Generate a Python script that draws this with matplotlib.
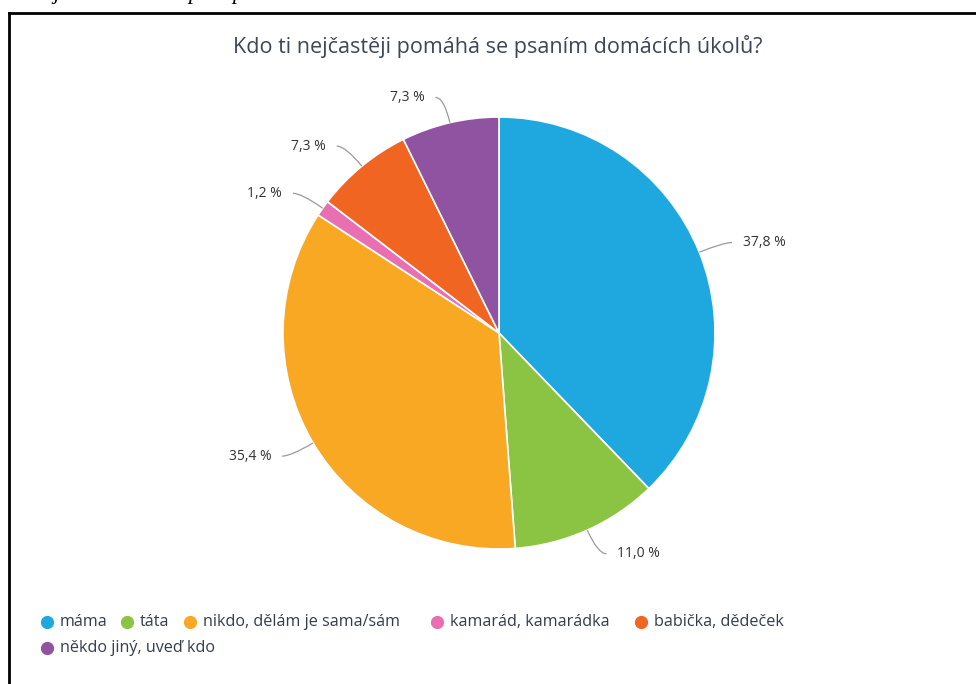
import numpy as np
import matplotlib
matplotlib.use("Agg")
import matplotlib.pyplot as plt
from matplotlib.lines import Line2D
from matplotlib.path import Path
from matplotlib.patches import PathPatch

# data
title = "Kdo ti nejčastěji pomáhá se psaním domácích úkolů?"
categories = ["máma", "táta", "nikdo, dělám je sama/sám", "kamarád, kamarádka",
              "babička, dědeček", "někdo jiný, uveď kdo"]
values = [37.8, 11.0, 35.4, 1.2, 7.3, 7.3]
colors = ["#1fa8df", "#8bc443", "#f9a823", "#e86fb1", "#f06522", "#8f53a1"]

plt.rcParams["font.family"] = ["Open Sans", "DejaVu Sans"]

W, H = 976, 684
fig = plt.figure(figsize=(W / 100, H / 100), dpi=100)

# pie centre (499, 333) px, radius 216 px
cx, cy, r = 499, 333, 216
ax = fig.add_axes([(cx - r) / W, (H - cy - r) / H, 2 * r / W, 2 * r / H])
wedges, _ = ax.pie(values, colors=colors, startangle=90, counterclock=False,
                   radius=1, wedgeprops=dict(edgecolor="white", linewidth=1.2))
ax.set_xlim(-1, 1)
ax.set_ylim(-1, 1)
ax.set_aspect("equal")
ax.axis("off")

# percentage labels with curved leader lines (highcharts-like placement)
for w, v in zip(wedges, values):
    mid = np.deg2rad((w.theta1 + w.theta2) / 2)
    c, s = np.cos(mid), np.sin(mid)
    sign = 1 if c > 0 else -1
    ly = 1.12 * s
    verts = [(c, s), (1.12 * c, ly), (1.12 * c + sign * 0.04, ly)]
    path = Path(verts, [Path.MOVETO, Path.CURVE3, Path.CURVE3])
    ax.add_patch(PathPatch(path, fc="none", ec="#9a9a9a", lw=0.9, clip_on=False))
    ax.text(1.12 * c + sign * 0.09, ly, f"{v:.1f} %".replace(".", ","),
            ha="left" if sign > 0 else "right", va="center", fontsize=10,
            color="#333333", clip_on=False)

fig.text(498 / W, 1 - 47 / H, title, ha="center", va="center", fontsize=15.5,
         color="#3d4758")

# legend (flow layout like the original)
legend_pos = [(47, 622), (127, 622), (190, 622), (437, 622), (641, 622), (47, 648)]
for (lx, ly), col, lab in zip(legend_pos, colors, categories):
    fig.add_artist(Line2D([lx / W], [1 - ly / H], transform=fig.transFigure,
                          marker="o", markersize=8.5, color=col, lw=0))
    fig.text((lx + 13) / W, 1 - ly / H, lab, ha="left", va="center", fontsize=11.6,
             color="#333d4a")

# screenshot frame (only top and left edge visible)
fig.add_artist(Line2D([9 / W, 1], [1 - 13 / H, 1 - 13 / H], transform=fig.transFigure,
                      color="black", lw=2))
fig.add_artist(Line2D([9 / W, 9 / W], [0, 1 - 13 / H], transform=fig.transFigure,
                      color="black", lw=2))

# cut-off caption above the frame
for px, ch in [(53, "j"), (188, "p"), (232, "p")]:
    fig.text(px / W, 1 + 1 / H, ch, ha="left", va="baseline", fontsize=16,
             family="Liberation Serif", style="italic", color="black")

fig.savefig("out.png", dpi=100)
